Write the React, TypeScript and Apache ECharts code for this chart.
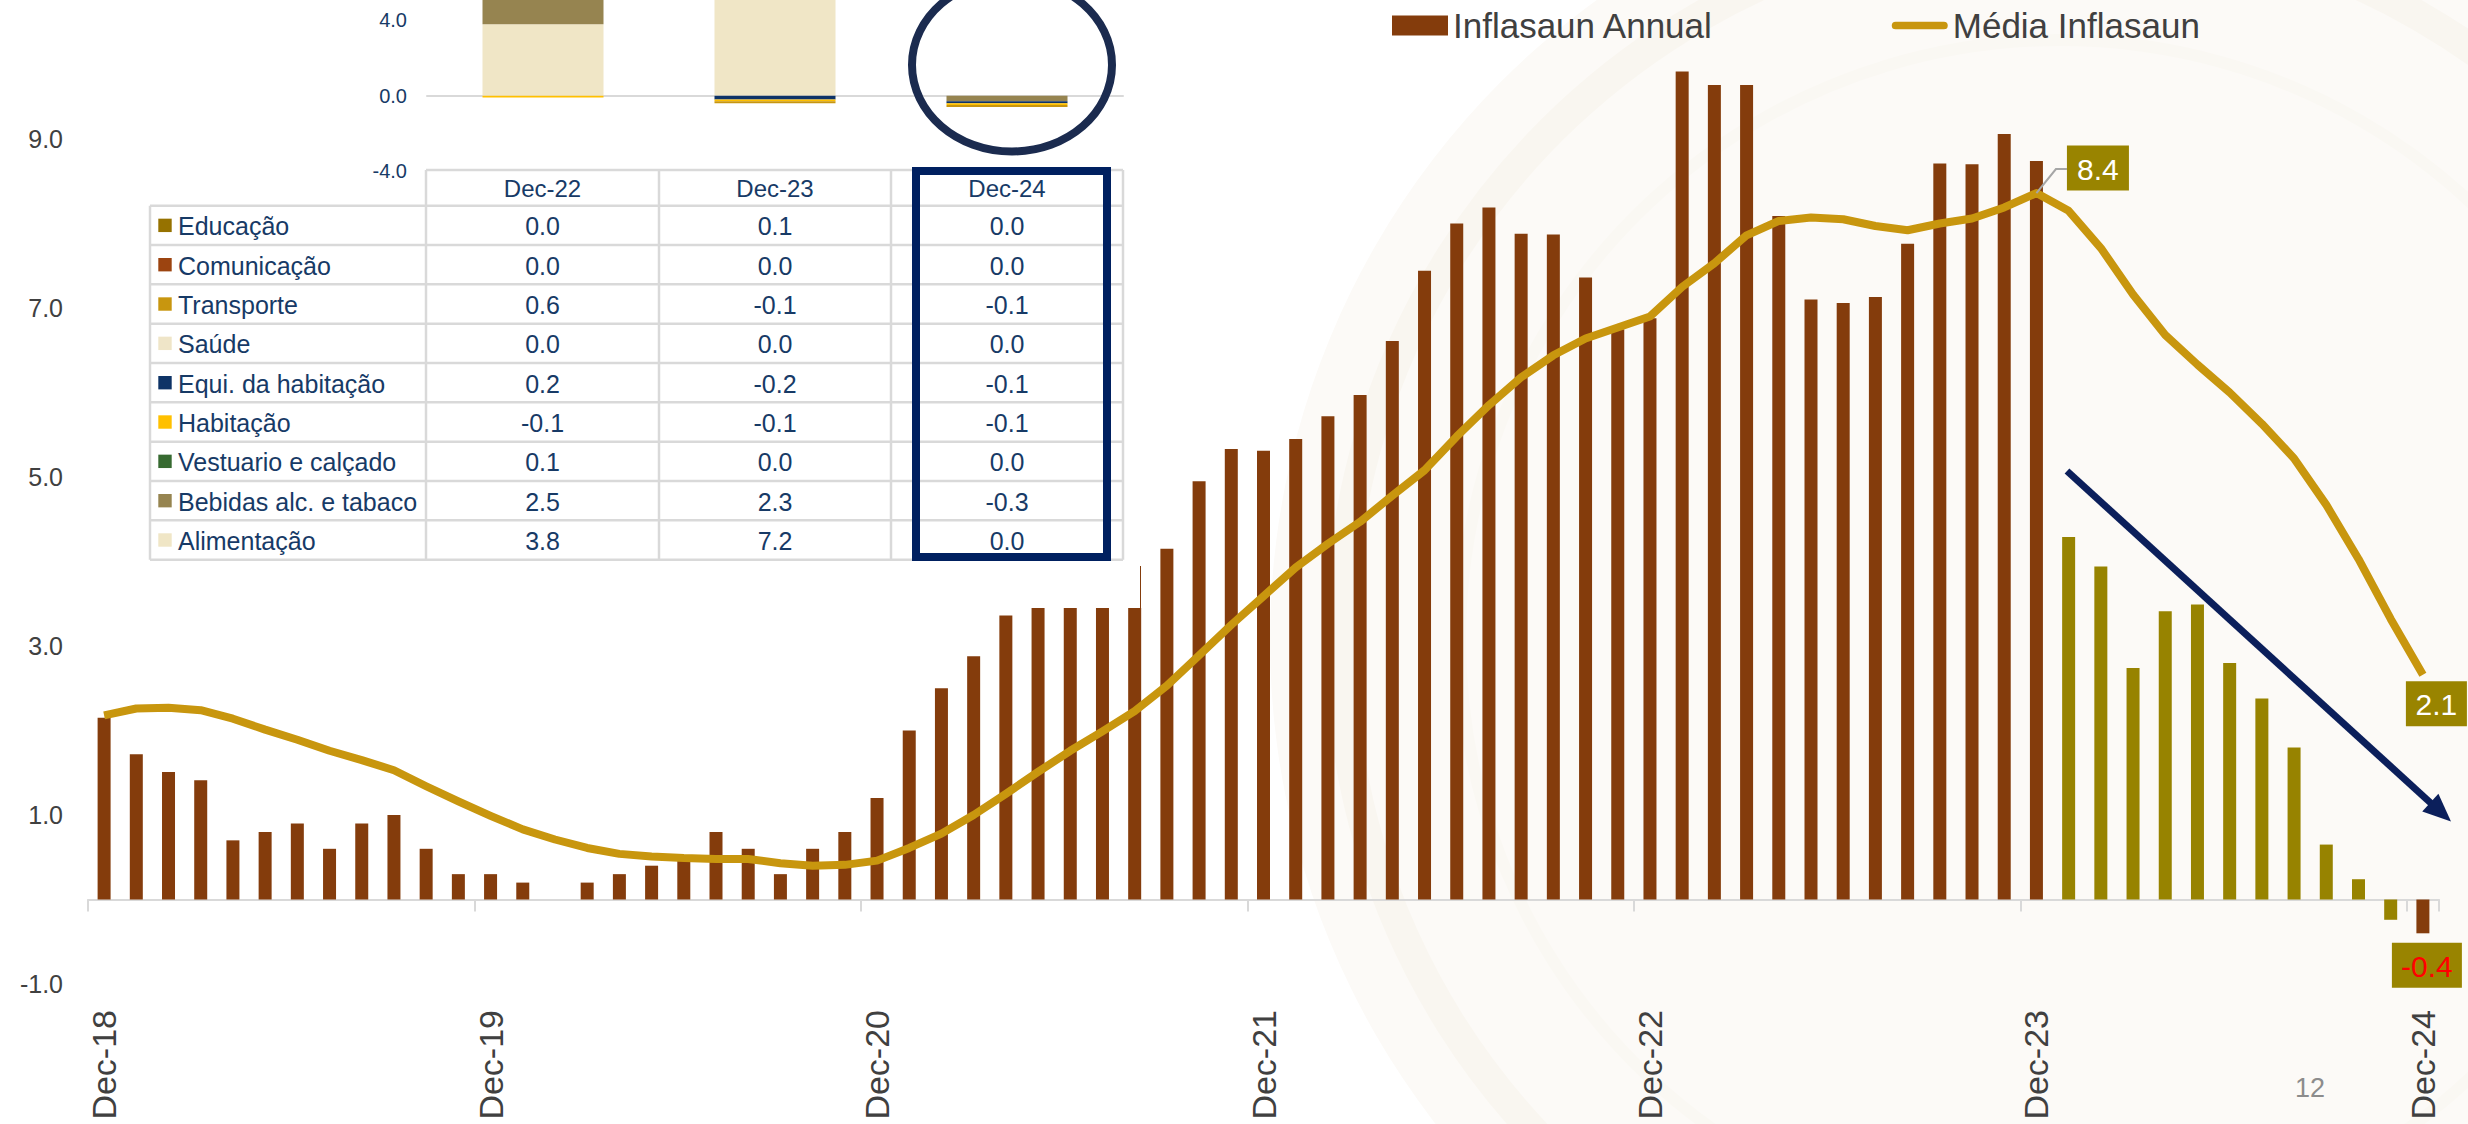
import React, { useEffect, useRef } from 'react';
import * as echarts from 'echarts';

// ---------- DATA ----------
const months = [
  'Dec-18',
  'Jan-19', 'Feb-19', 'Mar-19', 'Apr-19', 'May-19', 'Jun-19', 'Jul-19', 'Aug-19', 'Sep-19', 'Oct-19', 'Nov-19', 'Dec-19',
  'Jan-20', 'Feb-20', 'Mar-20', 'Apr-20', 'May-20', 'Jun-20', 'Jul-20', 'Aug-20', 'Sep-20', 'Oct-20', 'Nov-20', 'Dec-20',
  'Jan-21', 'Feb-21', 'Mar-21', 'Apr-21', 'May-21', 'Jun-21', 'Jul-21', 'Aug-21', 'Sep-21', 'Oct-21', 'Nov-21', 'Dec-21',
  'Jan-22', 'Feb-22', 'Mar-22', 'Apr-22', 'May-22', 'Jun-22', 'Jul-22', 'Aug-22', 'Sep-22', 'Oct-22', 'Nov-22', 'Dec-22',
  'Jan-23', 'Feb-23', 'Mar-23', 'Apr-23', 'May-23', 'Jun-23', 'Jul-23', 'Aug-23', 'Sep-23', 'Oct-23', 'Nov-23', 'Dec-23',
  'Jan-24', 'Feb-24', 'Mar-24', 'Apr-24', 'May-24', 'Jun-24', 'Jul-24', 'Aug-24', 'Sep-24', 'Oct-24', 'Nov-24', 'Dec-24',
];

const inflasaunAnnual = [
  2.15,
  1.72, 1.51, 1.41, 0.70, 0.80, 0.90, 0.60, 0.90, 1.00, 0.60, 0.30, 0.30,
  0.20, 0.00, 0.20, 0.30, 0.40, 0.50, 0.80, 0.60, 0.30, 0.60, 0.80, 1.20,
  2.00, 2.50, 2.88, 3.36, 3.45, 3.45, 3.45, 3.45, 4.15, 4.95, 5.33, 5.31,
  5.45, 5.72, 5.97, 6.61, 7.44, 8.00, 8.19, 7.88, 7.87, 7.36, 6.75, 6.88,
  9.80, 9.64, 9.64, 8.09, 7.10, 7.06, 7.13, 7.76, 8.71, 8.70, 9.06, 8.74,
  4.29, 3.94, 2.74, 3.41, 3.49, 2.80, 2.38, 1.80, 0.65, 0.24, -0.24, -0.40,
];

const mediaInflasaun = [
  2.18,
  2.26, 2.27, 2.24, 2.14, 2.01, 1.89, 1.76, 1.65, 1.53, 1.34, 1.16, 0.99,
  0.83, 0.71, 0.61, 0.54, 0.51, 0.49, 0.48, 0.48, 0.43, 0.40, 0.41, 0.46,
  0.61, 0.78, 1.00, 1.25, 1.51, 1.76, 1.99, 2.23, 2.53, 2.89, 3.25, 3.59,
  3.93, 4.21, 4.47, 4.78, 5.08, 5.48, 5.85, 6.18, 6.44, 6.64, 6.77, 6.90,
  7.25, 7.53, 7.86, 8.03, 8.07, 8.05, 7.97, 7.92, 8.00, 8.06, 8.19, 8.36,
  8.15, 7.71, 7.16, 6.68, 6.33, 6.00, 5.63, 5.22, 4.67, 4.03, 3.32, 2.66,
];

// months of 2024 shown in olive
const highlightedMonths = ['Jan-24', 'Feb-24', 'Mar-24', 'Apr-24', 'May-24', 'Jun-24', 'Jul-24', 'Aug-24', 'Sep-24', 'Oct-24', 'Nov-24'];

const yTickLabels = ['-1.0', '1.0', '3.0', '5.0', '7.0', '9.0'];

const averageCallouts = [
  { month: 'Dec-23', text: '8.4' },
  { month: 'Dec-24', text: '2.1' },
];
const annualCallouts = [{ month: 'Dec-24', text: '-0.4' }];

// inset: contributions by group
const insetColumns = ['Dec-22', 'Dec-23', 'Dec-24'];
const insetTickLabels = ['-4.0', '0.0', '4.0'];
const educacao = [0.0, 0.1, 0.0];
const comunicacao = [0.0, 0.0, 0.0];
const transporte = [0.6, -0.1, -0.1];
const saude = [0.0, 0.0, 0.0];
const equiHabitacao = [0.2, -0.2, -0.1];
const habitacao = [-0.1, -0.1, -0.1];
const vestuario = [0.1, 0.0, 0.0];
const bebidas = [2.5, 2.3, -0.3];
const alimentacao = [3.8, 7.2, 0.0];

// table row order (top to bottom)
const tableRows = [
  { name: 'Educação', values: educacao },
  { name: 'Comunicação', values: comunicacao },
  { name: 'Transporte', values: transporte },
  { name: 'Saúde', values: saude },
  { name: 'Equi. da habitação', values: equiHabitacao },
  { name: 'Habitação', values: habitacao },
  { name: 'Vestuario e calçado', values: vestuario },
  { name: 'Bebidas alc. e tabaco', values: bebidas },
  { name: 'Alimentação', values: alimentacao },
];
// stacking order (from zero outward)
const stackOrder = ['Alimentação', 'Bebidas alc. e tabaco', 'Vestuario e calçado', 'Equi. da habitação', 'Habitação', 'Transporte', 'Saúde', 'Comunicação', 'Educação'];

// ---------- STYLES ----------
const FONT = '"Liberation Sans", Arial, sans-serif';
const BROWN = '#843C0C';
const OLIVE = '#978300';
const GOLD = '#C8960E';
const CALLOUT_BG = '#998400';
const TABLE_TEXT = '#173A66';
const GRID_GRAY = '#D9D9D9';
const groupColors: Record<string, string> = {
  'Educação': '#967200',
  'Comunicação': '#9C4410',
  'Transporte': '#C8960F',
  'Saúde': '#EFE5C8',
  'Equi. da habitação': '#0E3366',
  'Habitação': '#FFC000',
  'Vestuario e calçado': '#376A31',
  'Bebidas alc. e tabaco': '#968450',
  'Alimentação': '#F0E6C6',
};
const averageCalloutStyle: Record<string, { dx: number; dy: number; w: number; leader: boolean }> = {
  'Dec-23': { dx: 61.5, dy: -25, w: 62, leader: true },
  'Dec-24': { dx: 13.5, dy: 29, w: 61, leader: false },
};
const annualCalloutStyle: Record<string, { dx: number; dy: number; w: number }> = {
  'Dec-24': { dx: 4, dy: 32, w: 70 },
};
const LINE_ICON = 'path://M4,0 H54 A4,4 0 0 1 54,8 H4 A4,4 0 0 1 4,0 Z';

function buildOption() {
  const insetSeries = stackOrder.map((name) => {
    const row = tableRows.find((r) => r.name === name)!;
    return {
      name,
      type: 'bar',
      xAxisIndex: 2,
      yAxisIndex: 1,
      stack: 'contrib',
      barWidth: 121,
      z: 60,
      data: row.values,
      itemStyle: { color: groupColors[name] },
    };
  });

  return {
    animation: false,
    textStyle: { fontFamily: FONT },
    legend: {
      left: 1392,
      top: 8,
      padding: 0,
      itemWidth: 56,
      itemHeight: 20,
      itemGap: 178,
      textStyle: { fontSize: 35, color: '#404040', fontFamily: FONT },
      data: [
        { name: 'Inflasaun Annual', icon: 'rect' },
        { name: 'Média Inflasaun', icon: LINE_ICON },
      ],
    },
    grid: [
      { left: 88, right: 29, top: 0, bottom: 140 },
      { left: 427, width: 696, top: 0, height: 170.9 },
    ],
    xAxis: [
      {
        type: 'category',
        gridIndex: 0,
        position: 'bottom',
        data: months,
        axisLine: { show: true, onZero: true, lineStyle: { color: GRID_GRAY, width: 2 } },
        axisTick: { show: true, interval: 11, length: 12, lineStyle: { color: GRID_GRAY, width: 2 } },
        axisLabel: { show: false },
        splitLine: { show: false },
      },
      {
        type: 'category',
        gridIndex: 0,
        position: 'bottom',
        data: months,
        axisLine: { show: false, onZero: false },
        axisTick: { show: false },
        axisLabel: { interval: 11, rotate: 90, margin: 26, fontSize: 34, color: '#404040', fontFamily: FONT },
        splitLine: { show: false },
      },
      {
        type: 'category',
        gridIndex: 1,
        data: insetColumns,
        z: 60,
        axisLine: { show: true, onZero: true, lineStyle: { color: GRID_GRAY, width: 2 } },
        axisTick: { show: false },
        axisLabel: { show: false },
        splitLine: { show: false },
      },
    ],
    yAxis: [
      {
        type: 'value',
        gridIndex: 0,
        min: -1,
        max: 10.645,
        interval: 1,
        axisLine: { show: false },
        axisTick: { show: false },
        splitLine: { show: false },
        axisLabel: {
          margin: 25,
          fontSize: 25,
          color: '#404040',
          fontFamily: FONT,
          formatter: (v: number) => {
            const s = v.toFixed(1);
            return yTickLabels.includes(s) ? s : '';
          },
        },
      },
      {
        type: 'value',
        gridIndex: 1,
        min: -4,
        max: 5.09,
        interval: 4,
        z: 60,
        axisLine: { show: false },
        axisTick: { show: false },
        splitLine: { show: false },
        axisLabel: {
          margin: 20,
          fontSize: 20,
          color: TABLE_TEXT,
          fontFamily: FONT,
          formatter: (v: number) => {
            const s = v.toFixed(1);
            return insetTickLabels.includes(s) ? s : '';
          },
        },
      },
    ],
    series: [
      {
        name: 'Inflasaun Annual',
        type: 'bar',
        xAxisIndex: 0,
        yAxisIndex: 0,
        barWidth: 13,
        itemStyle: { color: BROWN },
        data: inflasaunAnnual.map((v, i) => ({
          value: v,
          itemStyle: { color: highlightedMonths.includes(months[i]) ? OLIVE : BROWN },
        })),
      },
      {
        name: 'Média Inflasaun',
        type: 'line',
        xAxisIndex: 0,
        yAxisIndex: 0,
        symbol: 'none',
        showSymbol: false,
        z: 3,
        lineStyle: { width: 8, color: GOLD, join: 'round' },
        itemStyle: { color: GOLD },
        data: mediaInflasaun,
      },
      ...insetSeries,
    ],
  };
}

function buildGraphics(chart: any) {
  const els: any[] = [];

  // faint emblem watermark on the right
  els.push({ type: 'circle', z: -10, silent: true, shape: { cx: 2060, cy: 640, r: 790 }, style: { fill: '#FCFAF7' } });
  els.push({ type: 'circle', z: -9, silent: true, shape: { cx: 2060, cy: 640, r: 720 }, style: { fill: 'none', stroke: '#F9F6F0', lineWidth: 30 } });
  els.push({ type: 'circle', z: -9, silent: true, shape: { cx: 2060, cy: 640, r: 600 }, style: { fill: 'none', stroke: '#FAF8F3', lineWidth: 12 } });

  // data table
  const tableLeft = 150;
  const colEdges = [426, 659, 891, 1123];
  const headerTop = 170;
  const bodyTop = 205.7;
  const rowH = 39.33;
  const bottom = bodyTop + rowH * tableRows.length;
  const lineStyle = { stroke: GRID_GRAY, lineWidth: 2.5 };
  els.push({ type: 'line', z: 70, shape: { x1: colEdges[0], y1: headerTop, x2: colEdges[3], y2: headerTop }, style: lineStyle });
  for (let k = 0; k <= tableRows.length; k++) {
    const y = bodyTop + k * rowH;
    els.push({ type: 'line', z: 70, shape: { x1: tableLeft, y1: y, x2: colEdges[3], y2: y }, style: lineStyle });
  }
  els.push({ type: 'line', z: 70, shape: { x1: tableLeft, y1: bodyTop, x2: tableLeft, y2: bottom }, style: lineStyle });
  colEdges.forEach((x) => {
    els.push({ type: 'line', z: 70, shape: { x1: x, y1: headerTop, x2: x, y2: bottom }, style: lineStyle });
  });
  const colCenters = [0, 1, 2].map((c) => (colEdges[c] + colEdges[c + 1]) / 2);
  insetColumns.forEach((c, j) => {
    els.push({
      type: 'text', z: 71, x: colCenters[j], y: (headerTop + bodyTop) / 2 + 1,
      style: { text: c, fill: TABLE_TEXT, fontSize: 24, fontFamily: FONT, align: 'center', verticalAlign: 'middle' },
    });
  });
  tableRows.forEach((r, k) => {
    const cy = bodyTop + k * rowH + rowH / 2;
    els.push({ type: 'rect', z: 71, shape: { x: 158.3, y: cy - 6.7, width: 13.4, height: 13.4 }, style: { fill: groupColors[r.name] } });
    els.push({
      type: 'text', z: 71, x: 178, y: cy + 1,
      style: { text: r.name, fill: TABLE_TEXT, fontSize: 25, fontFamily: FONT, align: 'left', verticalAlign: 'middle' },
    });
    r.values.forEach((v, j) => {
      els.push({
        type: 'text', z: 71, x: colCenters[j], y: cy + 1,
        style: { text: v.toFixed(1), fill: TABLE_TEXT, fontSize: 25, fontFamily: FONT, align: 'center', verticalAlign: 'middle' },
      });
    });
  });

  // highlight of the Dec-24 column and bar
  els.push({ type: 'rect', z: 75, shape: { x: 916, y: 171, width: 191, height: 386 }, style: { fill: 'none', stroke: '#002060', lineWidth: 8 } });
  els.push({ type: 'ellipse', z: 75, shape: { cx: 1012, cy: 65, rx: 100, ry: 86.5 }, style: { fill: 'none', stroke: '#1B2B4F', lineWidth: 8 } });

  // thin edge line
  els.push({ type: 'line', z: 5, shape: { x1: 1140.5, y1: 566, x2: 1140.5, y2: 608 }, style: { stroke: BROWN, lineWidth: 1 } });

  // trend arrow
  const tip = [2451, 821.5];
  const start = [2067, 471];
  const dxA = tip[0] - start[0];
  const dyA = tip[1] - start[1];
  const len = Math.hypot(dxA, dyA);
  const ux = dxA / len;
  const uy = dyA / len;
  const headL = 28;
  const headW = 12;
  const base = [tip[0] - ux * headL, tip[1] - uy * headL];
  els.push({ type: 'line', z: 20, shape: { x1: start[0], y1: start[1], x2: base[0] + ux * 2, y2: base[1] + uy * 2 }, style: { stroke: '#0B1F5B', lineWidth: 7 } });
  els.push({
    type: 'polygon', z: 20,
    shape: { points: [tip, [base[0] - uy * headW, base[1] + ux * headW], [base[0] + uy * headW, base[1] - ux * headW]] },
    style: { fill: '#0B1F5B' },
  });

  // callouts on the average line
  averageCallouts.forEach((c) => {
    const i = months.indexOf(c.month);
    const [px, py] = chart.convertToPixel({ xAxisIndex: 0, yAxisIndex: 0 }, [i, mediaInflasaun[i]]);
    const st = averageCalloutStyle[c.month];
    const bx = px + st.dx;
    const by = py + st.dy;
    if (st.leader) {
      els.push({
        type: 'polyline', z: 21,
        shape: { points: [[px, py], [px + 19.5, by + 1], [bx - st.w / 2, by + 1]] },
        style: { stroke: '#A6A6A6', lineWidth: 2, fill: 'none' },
      });
    }
    els.push({ type: 'rect', z: 22, shape: { x: bx - st.w / 2, y: by - 22.5, width: st.w, height: 45 }, style: { fill: CALLOUT_BG } });
    els.push({
      type: 'text', z: 23, x: bx, y: by + 1,
      style: { text: c.text, fill: '#FFFFFF', fontSize: 30, fontFamily: FONT, align: 'center', verticalAlign: 'middle' },
    });
  });

  // callout on the annual bar
  annualCallouts.forEach((c) => {
    const i = months.indexOf(c.month);
    const [px, py] = chart.convertToPixel({ xAxisIndex: 0, yAxisIndex: 0 }, [i, inflasaunAnnual[i]]);
    const st = annualCalloutStyle[c.month];
    const bx = px + st.dx;
    const by = py + st.dy;
    els.push({ type: 'rect', z: 22, shape: { x: bx - st.w / 2, y: by - 22.5, width: st.w, height: 45 }, style: { fill: CALLOUT_BG } });
    els.push({
      type: 'text', z: 23, x: bx, y: by + 1,
      style: { text: c.text, fill: '#FF0000', fontSize: 30, fontFamily: FONT, align: 'center', verticalAlign: 'middle' },
    });
  });

  // page number
  els.push({
    type: 'text', z: 5, x: 2310, y: 1088,
    style: { text: '12', fill: '#8C8C8C', fontSize: 27, fontFamily: FONT, align: 'center', verticalAlign: 'middle' },
  });

  return els;
}

export default function App() {
  const ref = useRef<HTMLDivElement>(null);
  useEffect(() => {
    const chart = echarts.init(ref.current as HTMLDivElement, null, { renderer: 'svg' });
    chart.setOption(buildOption() as any);
    chart.setOption({ graphic: buildGraphics(chart) } as any);
    return () => chart.dispose();
  }, []);
  return (
    <div
      ref={ref}
      style={{ position: 'absolute', left: 0, top: 0, width: 2468, height: 1124, background: '#FFFFFF' }}
    />
  );
}
